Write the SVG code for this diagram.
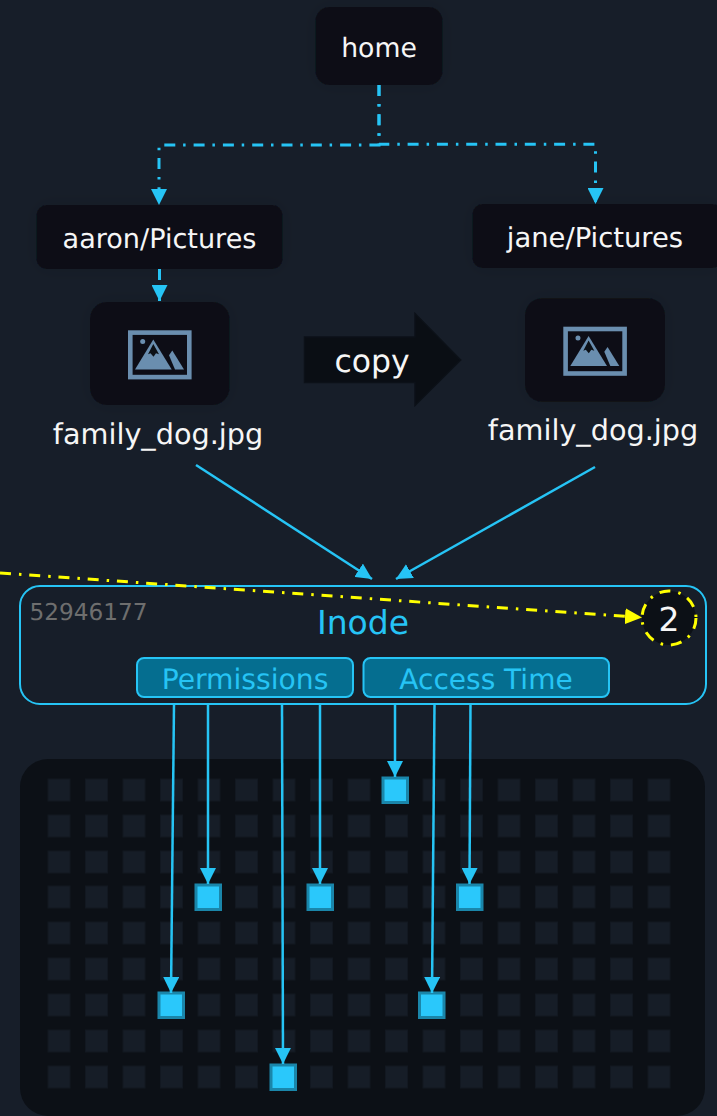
<svg xmlns="http://www.w3.org/2000/svg" width="717" height="1116" viewBox="0 0 717 1116">
<style>
text{font-family:"DejaVu Sans",Verdana,sans-serif;text-anchor:middle;text-rendering:geometricPrecision}
.n{fill:#0c1016;filter:url(#gl)}
.t{fill:#f6f6f6}
.b{fill:none;stroke:#26c4f5;stroke-width:2.500}
.dd{fill:none;stroke:#26c4f5;stroke-width:3;stroke-dasharray:11 8 2.500 7.800}
.y{fill:none;stroke:#ffff00;stroke-width:3;stroke-dasharray:11 8 2.500 7.800}
.cell{fill:#161d27;stroke:#121821;stroke-width:1}
.sq{fill:#2ac8fb;stroke:#1a86aa;stroke-width:3}
.tag{fill:#056e90;stroke:#26c4f5;stroke-width:2}
.tt{fill:#26c4f5}
.ic{fill:#6a8eaf}
</style>
<defs>
<marker id="a" markerUnits="userSpaceOnUse" markerWidth="16" markerHeight="16" refX="16" refY="8" orient="auto"><path d="M0 0L16 8L0 16Z" fill="#26c4f5"/></marker>
<marker id="ay" markerUnits="userSpaceOnUse" markerWidth="17" markerHeight="16" refX="17" refY="8" orient="auto"><path d="M0 0L17 8L0 16Z" fill="#ffff00"/></marker>
<filter id="gl" x="-30%" y="-30%" width="160%" height="160%"><feGaussianBlur in="SourceAlpha" stdDeviation="10"/><feComponentTransfer><feFuncA type="linear" slope=".1"/></feComponentTransfer><feMerge><feMergeNode/><feMergeNode in="SourceGraphic"/></feMerge></filter>
<g id="icon"><rect x="2.300" y="2.300" width="59" height="44.500" fill="none" stroke="#6a8eaf" stroke-width="4.600"/><circle cx="14.700" cy="11.300" r="2.500" class="ic"/><path class="ic" d="M7 39.300L25.300 9.300L43.700 39.300Z"/><path class="ic" d="M44.300 20.300L41 25L47 39.300H56Z"/><path d="M25.300 13.700L20 24L22.500 23L25.500 26.500L28 23L31 24Z" fill="#0c1016"/></g>
<g id="row"><rect class="cell" x="48" width="22" height="22"/><rect class="cell" x="85.500" width="22" height="22"/><rect class="cell" x="123" width="22" height="22"/><rect class="cell" x="160.500" width="22" height="22"/><rect class="cell" x="198" width="22" height="22"/><rect class="cell" x="235.500" width="22" height="22"/><rect class="cell" x="273" width="22" height="22"/><rect class="cell" x="310.500" width="22" height="22"/><rect class="cell" x="348" width="22" height="22"/><rect class="cell" x="385.500" width="22" height="22"/><rect class="cell" x="423" width="22" height="22"/><rect class="cell" x="460.500" width="22" height="22"/><rect class="cell" x="498" width="22" height="22"/><rect class="cell" x="535.500" width="22" height="22"/><rect class="cell" x="573" width="22" height="22"/><rect class="cell" x="610.500" width="22" height="22"/><rect class="cell" x="648" width="22" height="22"/></g>
</defs>
<rect width="717" height="1116" fill="#171e29"/>
<g id="memory">
<rect x="20" y="759" width="685" height="357" rx="28" fill="#0c1016"/>
<use href="#row" y="779"/><use href="#row" y="815"/><use href="#row" y="851"/><use href="#row" y="886"/><use href="#row" y="922"/><use href="#row" y="958"/><use href="#row" y="994"/><use href="#row" y="1030"/><use href="#row" y="1066"/>
<rect class="sq" x="159" y="993" width="24.500" height="24.500"/><rect class="sq" x="196" y="885" width="24.500" height="24.500"/><rect class="sq" x="271" y="1065" width="24.500" height="24.500"/><rect class="sq" x="308" y="885" width="24.500" height="24.500"/><rect class="sq" x="383" y="778" width="24.500" height="24.500"/><rect class="sq" x="419.500" y="993" width="24.500" height="24.500"/><rect class="sq" x="457.500" y="885" width="24.500" height="24.500"/>
</g>
<g id="home"><rect class="n" x="315.500" y="7" width="127" height="78" rx="14"/><text class="t" x="379" y="57" font-size="26.700">home</text></g>
<g id="aaron"><rect class="n" x="36.500" y="205" width="246" height="64" rx="10"/><text class="t" x="159.500" y="248" font-size="27.100">aaron/Pictures</text></g>
<g id="jane"><rect class="n" x="472.500" y="204" width="250" height="64" rx="10"/><text class="t" x="595" y="247" font-size="27.400">jane/Pictures</text></g>
<g id="file1"><rect class="n" x="90" y="302" width="139.500" height="103" rx="17"/><use href="#icon" x="128" y="330.300"/><text class="t" x="158" y="443.500" font-size="28.700">family_dog.jpg</text></g>
<g id="file2"><rect class="n" x="525" y="298.300" width="140" height="103.500" rx="17"/><use href="#icon" x="563.300" y="326.700"/><text class="t" x="593" y="440" font-size="28.700">family_dog.jpg</text></g>
<g id="copy"><path d="M304.500 337H415V313.500L460.700 360L415 405.500V382.500H304.500Z" fill="#0a0e14" stroke="#0c1118" stroke-width="1.500"/><text class="t" x="372" y="372" font-size="31.500">copy</text></g>
<g id="inode"><rect x="20" y="586" width="686" height="118" rx="20" fill="none" stroke="#26c4f5" stroke-width="2"/><text x="88.500" y="620" fill="#6e6e6e" font-size="23.200">52946177</text><text class="tt" x="363" y="634" font-size="33">Inode</text></g>
<g id="permissions"><rect class="tag" x="137" y="658" width="216" height="39" rx="7"/><text class="tt" x="245" y="689" font-size="28.200">Permissions</text></g>
<g id="access"><rect class="tag" x="363.500" y="658" width="245.500" height="39" rx="7"/><text class="tt" x="486" y="689" font-size="28">Access Time</text></g>
<g id="links">
<path class="dd" d="M379 85V145H159V205" marker-end="url(#a)"/>
<path class="dd" d="M379 85V144.300H595.500V204" marker-end="url(#a)"/>
<path class="dd" d="M159.500 269V301" marker-end="url(#a)"/>
<path class="b" d="M196 465L372 579" marker-end="url(#a)"/>
<path class="b" d="M595 467L396 579" marker-end="url(#a)"/>
<path class="b" d="M174 704L171 993" marker-end="url(#a)"/>
<path class="b" d="M208 704V884" marker-end="url(#a)"/>
<path class="b" d="M282 704L283 1064" marker-end="url(#a)"/>
<path class="b" d="M320 704V884" marker-end="url(#a)"/>
<path class="b" d="M395 704V777" marker-end="url(#a)"/>
<path class="b" d="M434.500 704L432 993" marker-end="url(#a)"/>
<path class="b" d="M470.500 704L469.500 884" marker-end="url(#a)"/>
</g>
<g id="count"><circle cx="669" cy="618" r="27" fill="#0c1016" stroke="#ffff00" stroke-width="3" stroke-dasharray="11 8 2.500 7.800"/><text class="t" x="669" y="631" font-size="33">2</text></g>
<path class="y" id="hardlink" d="M0 573L642 617.500" marker-end="url(#ay)"/>
</svg>
